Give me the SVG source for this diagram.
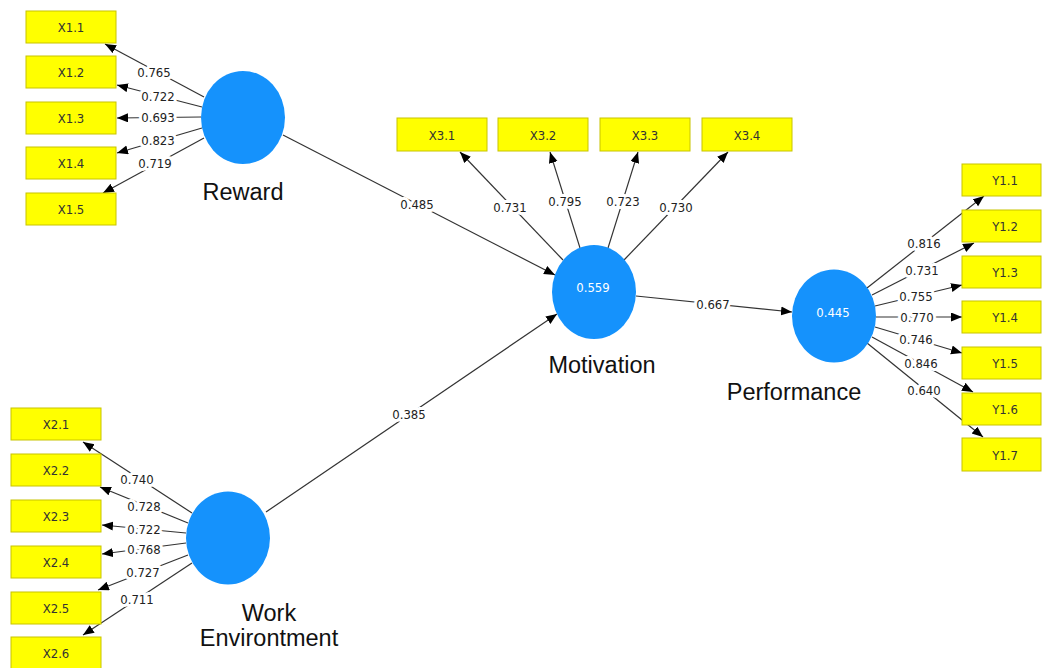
<svg xmlns="http://www.w3.org/2000/svg" width="1042" height="668" viewBox="0 0 1042 668">
<defs>
<marker id="arr" markerUnits="userSpaceOnUse" markerWidth="12" markerHeight="10" refX="11" refY="4.5" orient="auto">
<path d="M0,0 L11,4.5 L0,9 z" fill="#000"/>
</marker>
<style>
.ind rect{fill:#ffff00;stroke:#c8c400;stroke-width:1}
.ind text{font-family:"DejaVu Sans Condensed","Liberation Sans",Arial,sans-serif;font-stretch:condensed;font-size:13px;fill:#333;text-anchor:middle;dominant-baseline:central}
.lat ellipse{fill:#1592fc}
.lat text.v{font-family:"DejaVu Sans Condensed","Liberation Sans",Arial,sans-serif;font-stretch:condensed;font-size:13px;fill:#fff;text-anchor:middle;dominant-baseline:central}
.lat text.n{font-family:"Liberation Sans",Arial,sans-serif;font-size:23.5px;fill:#111;text-anchor:middle}
#edges line{stroke:#333;stroke-width:1.2;marker-end:url(#arr)}
#edges text{font-family:"DejaVu Sans Condensed","Liberation Sans",Arial,sans-serif;font-stretch:condensed;font-size:13px;fill:#222;text-anchor:middle;dominant-baseline:central;stroke:#fff;stroke-width:6;stroke-linejoin:round;paint-order:stroke}
</style>
</defs>
<rect width="1042" height="668" fill="#fff"/>

<g id="edges">
<line x1="204" y1="97" x2="105" y2="44"/>
<line x1="202" y1="107" x2="117" y2="85"/>
<line x1="201" y1="117" x2="117" y2="118"/>
<line x1="202" y1="128" x2="117" y2="153"/>
<line x1="204" y1="138" x2="103" y2="193"/>
<line x1="192" y1="513" x2="83" y2="442"/>
<line x1="188" y1="523" x2="100" y2="487"/>
<line x1="186" y1="533" x2="102" y2="525"/>
<line x1="186" y1="543" x2="102" y2="554"/>
<line x1="188" y1="555" x2="98" y2="590"/>
<line x1="192" y1="563" x2="83" y2="635"/>
<line x1="283" y1="135" x2="555" y2="275"/>
<line x1="266" y1="512" x2="557" y2="314"/>
<line x1="563" y1="260" x2="460" y2="152"/>
<line x1="580" y1="248" x2="550" y2="152"/>
<line x1="608" y1="248" x2="638" y2="152"/>
<line x1="624" y1="260" x2="728" y2="152"/>
<line x1="636" y1="296" x2="792" y2="312"/>
<line x1="867" y1="288" x2="984" y2="196"/>
<line x1="872" y1="295" x2="974" y2="243"/>
<line x1="875" y1="306" x2="962" y2="285"/>
<line x1="876" y1="317" x2="962" y2="317"/>
<line x1="875" y1="327" x2="962" y2="353"/>
<line x1="872" y1="337" x2="973" y2="392"/>
<line x1="867" y1="343" x2="983" y2="437"/>

<text x="154" y="72">0.765</text>
<text x="158" y="96">0.722</text>
<text x="158" y="117">0.693</text>
<text x="158" y="140">0.823</text>
<text x="155" y="163">0.719</text>
<text x="137" y="479">0.740</text>
<text x="144" y="506">0.728</text>
<text x="144" y="529">0.722</text>
<text x="144" y="549">0.768</text>
<text x="143" y="572">0.727</text>
<text x="137" y="599">0.711</text>
<text x="417" y="204">0.485</text>
<text x="409" y="414">0.385</text>
<text x="510" y="207">0.731</text>
<text x="565" y="201">0.795</text>
<text x="623" y="201">0.723</text>
<text x="676" y="207">0.730</text>
<text x="713" y="304">0.667</text>
<text x="924" y="243">0.816</text>
<text x="922" y="270">0.731</text>
<text x="916" y="296">0.755</text>
<text x="917" y="317">0.770</text>
<text x="916" y="339">0.746</text>
<text x="921" y="363">0.846</text>
<text x="924" y="390">0.640</text>
</g>

<g id="X1.1" class="ind"><rect x="26" y="11" width="90" height="32"/><text x="71" y="27">X1.1</text></g>
<g id="X1.2" class="ind"><rect x="26" y="56" width="90" height="32"/><text x="71" y="72">X1.2</text></g>
<g id="X1.3" class="ind"><rect x="26" y="102" width="90" height="32"/><text x="71" y="118">X1.3</text></g>
<g id="X1.4" class="ind"><rect x="26" y="147" width="90" height="32"/><text x="71" y="163">X1.4</text></g>
<g id="X1.5" class="ind"><rect x="26" y="193" width="90" height="32"/><text x="71" y="209">X1.5</text></g>

<g id="X2.1" class="ind"><rect x="11" y="408" width="90" height="32"/><text x="56" y="424">X2.1</text></g>
<g id="X2.2" class="ind"><rect x="11" y="454" width="90" height="32"/><text x="56" y="470">X2.2</text></g>
<g id="X2.3" class="ind"><rect x="11" y="500" width="90" height="32"/><text x="56" y="516">X2.3</text></g>
<g id="X2.4" class="ind"><rect x="11" y="546" width="90" height="32"/><text x="56" y="562">X2.4</text></g>
<g id="X2.5" class="ind"><rect x="11" y="592" width="90" height="32"/><text x="56" y="608">X2.5</text></g>
<g id="X2.6" class="ind"><rect x="11" y="637" width="90" height="32"/><text x="56" y="653">X2.6</text></g>

<g id="X3.1" class="ind"><rect x="397" y="118" width="90" height="33"/><text x="442" y="135">X3.1</text></g>
<g id="X3.2" class="ind"><rect x="498" y="118" width="90" height="33"/><text x="543" y="135">X3.2</text></g>
<g id="X3.3" class="ind"><rect x="600" y="118" width="90" height="33"/><text x="645" y="135">X3.3</text></g>
<g id="X3.4" class="ind"><rect x="702" y="118" width="90" height="33"/><text x="747" y="135">X3.4</text></g>

<g id="Y1.1" class="ind"><rect x="962" y="164" width="79" height="32"/><text x="1005" y="180">Y1.1</text></g>
<g id="Y1.2" class="ind"><rect x="962" y="210" width="79" height="32"/><text x="1005" y="226">Y1.2</text></g>
<g id="Y1.3" class="ind"><rect x="962" y="256" width="79" height="32"/><text x="1005" y="272">Y1.3</text></g>
<g id="Y1.4" class="ind"><rect x="962" y="301" width="79" height="32"/><text x="1005" y="317">Y1.4</text></g>
<g id="Y1.5" class="ind"><rect x="962" y="347" width="79" height="32"/><text x="1005" y="363">Y1.5</text></g>
<g id="Y1.6" class="ind"><rect x="962" y="393" width="79" height="32"/><text x="1005" y="409">Y1.6</text></g>
<g id="Y1.7" class="ind"><rect x="962" y="438" width="79" height="33"/><text x="1005" y="455">Y1.7</text></g>

<g id="Reward" class="lat"><ellipse cx="243" cy="117.5" rx="42" ry="46.5"/><text class="n" x="243" y="200">Reward</text></g>
<g id="WorkEnvironment" class="lat"><ellipse cx="228" cy="538" rx="42" ry="46.5"/><text class="n" x="269" y="621">Work</text><text class="n" x="269" y="646">Environtment</text></g>
<g id="Motivation" class="lat"><ellipse cx="594" cy="292" rx="42" ry="47"/><text class="v" x="593" y="287">0.559</text><text class="n" x="602" y="373">Motivation</text></g>
<g id="Performance" class="lat"><ellipse cx="834" cy="316" rx="42" ry="46.5"/><text class="v" x="833" y="312">0.445</text><text class="n" x="794" y="400">Performance</text></g>
</svg>
